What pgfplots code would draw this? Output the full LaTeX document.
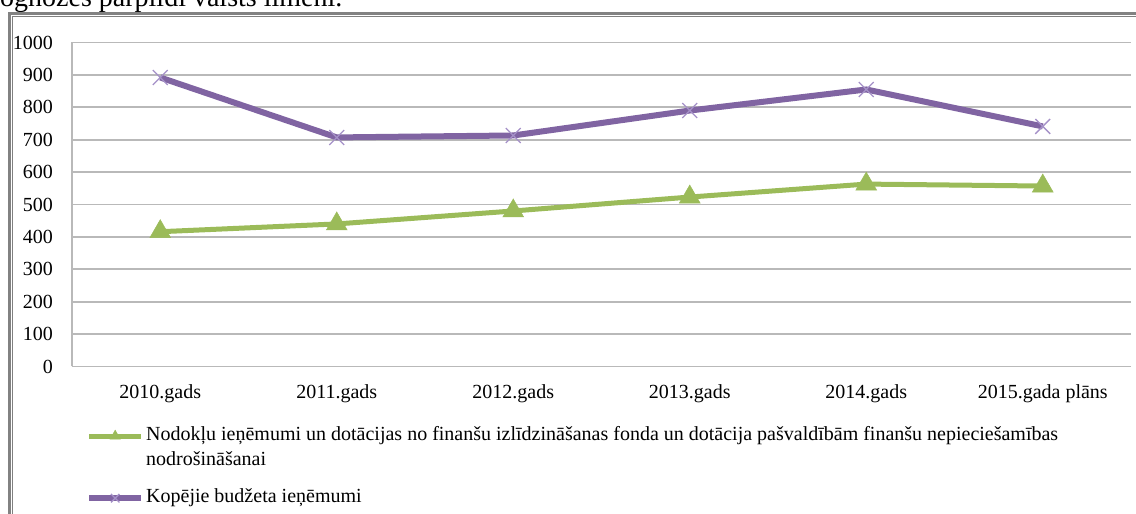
\documentclass[border=0pt]{standalone}
\usepackage{fontspec}
\setmainfont{Liberation Serif}
\usepackage{pgfplots}
\pgfplotsset{compat=1.18}
\definecolor{pur}{RGB}{128,100,162}
\definecolor{purm}{RGB}{165,145,200}
\definecolor{grn}{RGB}{155,187,89}
\definecolor{gridc}{RGB}{185,185,185}
\definecolor{framec}{RGB}{130,130,130}
\begin{document}
\begin{tikzpicture}[x=1pt,y=1pt]
\useasboundingbox (0,0) rectangle (1136,514);
\begin{scope}
\clip (0,0) rectangle (1136,514);
\node[anchor=base west, inner sep=0pt, font=\fontsize{28}{32}\selectfont] at (0,507) {ognozes pārpildī valsts līmenī.};
\draw[framec, line width=2.7pt] (9.7,-50) -- (9.7,500.3) -- (1200,500.3);
\draw[gray, line width=1pt] (12.8,-50) -- (12.8,497.5) -- (1200,497.5);
\end{scope}
\begin{axis}[
  at={(72pt,147.5pt)}, anchor=south west,
  scale only axis, width=1059pt, height=324pt,
  xmin=-0.5, xmax=5.5, ymin=0, ymax=1000,
  ytick={0,100,...,1000},
  xtick={0,...,5},
  xticklabels={2010.gads,2011.gads,2012.gads,2013.gads,2014.gads,2015.gada plāns},
  axis lines=left, axis line style={gridc, line width=1.8pt, -},
  ymajorgrids, grid style={gridc, line width=1.8pt},
  major tick length=0pt,
  tick label style={font=\fontsize{20}{24}\selectfont},
  /pgf/number format/assume math mode=true,
  /pgf/number format/1000 sep={},
  yticklabel style={anchor=east, inner sep=0pt, xshift=-19pt},
  xticklabel style={anchor=base, inner sep=0pt, yshift=-32pt},
  clip=false,
  legend cell align=left,
  legend style={at={(0,0)}, anchor=north west, xshift=14pt, yshift=-58pt,
    draw=none, fill=none, inner sep=0pt,
    font=\fontsize{20}{24}\selectfont,
    nodes={inner sep=2pt, text height=14pt, text depth=5pt},
    row sep=2pt},
  legend image code/.code={\draw[mark repeat=2, mark phase=2, #1, mark size=6pt] plot coordinates {(0pt,0pt) (26pt,0pt) (52pt,0pt)};},
]
\addplot[grn, line width=5pt, mark=triangle*, mark size=12pt, mark options={fill=grn, draw=grn, line width=0.5pt}]
  coordinates {(0,416) (1,440) (2,480) (3,523) (4,563) (5,557)};
\addlegendentry{Nodokļu ieņēmumi un dotācijas no finanšu izlīdzināšanas fonda un dotācija pašvaldībām finanšu nepieciešamības}
\addlegendimage{empty legend}
\addlegendentry[text depth=17pt]{nodrošināšanai}
\addplot[pur, line width=6pt, mark=x, mark size=10.5pt, mark options={draw=purm, line width=1.3pt}]
  coordinates {(0,892) (1,707) (2,713) (3,790) (4,855) (5,741)};
\addlegendentry{Kopējie budžeta ieņēmumi}
\end{axis}
\end{tikzpicture}
\end{document}
